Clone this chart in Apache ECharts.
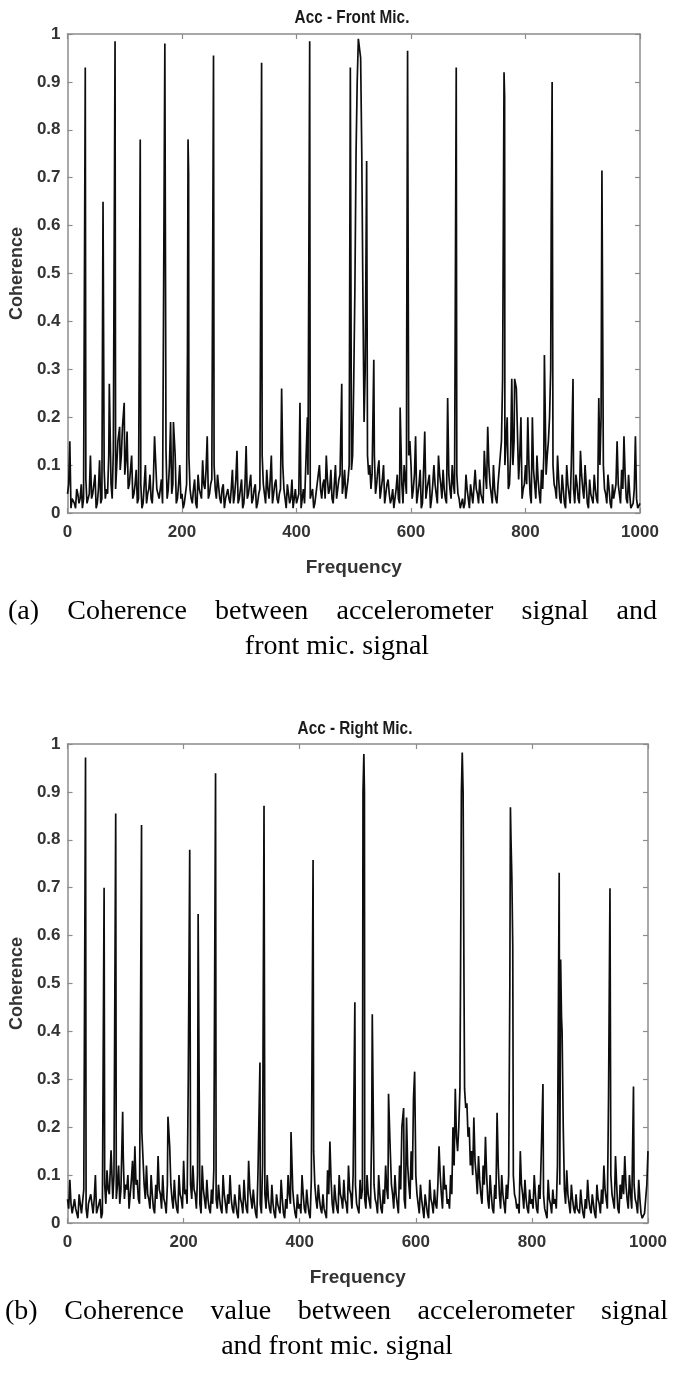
<!DOCTYPE html>
<html><head><meta charset="utf-8">
<script src="https://cdn.jsdelivr.net/npm/echarts@6/dist/echarts.min.js"></script>
<style>html,body{margin:0;padding:0;background:#fff}#c{width:675px;height:1379px}</style>
</head><body><div id="c"></div>
<script>
// ---------- DATA ----------
const FREQ_STEP = 4;           // spacing (Hz) of the background samples (base at 0,4,8.. ; fill at 2,6,10..)
const xTickStep = 200;          // frequency tick spacing
const yTickStep = 0.1;          // coherence tick spacing

// Acc - Front Mic. : background coherence at 0,4,...,1000 Hz
const noiseA = [
  0.04,0.15,0.03,0.02,0.05,0.02,0.06,0.03,0.07,0.02,
  0.12,0.04,0.08,0.02,0.11,0.03,0.09,0.05,0.12,0.06,
  0.13,0.05,0.15,0.09,0.18,0.08,0.17,0.06,0.12,0.04,
  0.09,0.03,0.06,0.02,0.10,0.04,0.08,0.02,0.16,0.05,
  0.03,0.07,0.02,0.13,0.05,0.19,0.06,0.12,0.03,0.10,
  0.04,0.02,0.06,0.12,0.03,0.05,0.02,0.08,0.04,0.11,
  0.05,0.16,0.04,0.07,0.10,0.03,0.08,0.02,0.06,0.03,
  0.05,0.02,0.09,0.04,0.13,0.03,0.07,0.02,0.14,0.04,
  0.08,0.03,0.06,0.02,0.05,0.12,0.04,0.09,0.03,0.12,
  0.04,0.07,0.02,0.05,0.10,0.03,0.06,0.02,0.07,0.03,
  0.02,0.04,0.01,0.05,0.02,0.08,0.03,0.05,0.02,0.06,
  0.10,0.03,0.07,0.12,0.04,0.09,0.02,0.10,0.05,0.08,
  0.04,0.09,0.05,0.10,0.09,0.28,0.75,0.99,0.95,0.45,
  0.30,0.12,0.10,0.08,0.12,0.06,0.11,0.05,0.10,0.04,
  0.07,0.02,0.05,0.03,0.08,0.02,0.06,0.10,0.04,0.12,
  0.10,0.05,0.16,0.04,0.09,0.02,0.17,0.05,0.08,0.03,
  0.10,0.04,0.12,0.06,0.09,0.03,0.24,0.05,0.10,0.04,
  0.08,0.03,0.02,0.01,0.08,0.03,0.06,0.02,0.09,0.04,
  0.07,0.03,0.13,0.05,0.10,0.04,0.10,0.03,0.06,0.12,
  0.28,0.10,0.20,0.06,0.28,0.15,0.26,0.07,0.20,0.05,
  0.10,0.20,0.04,0.20,0.06,0.12,0.04,0.09,0.12,0.08,
  0.15,0.30,0.10,0.05,0.12,0.03,0.08,0.02,0.10,0.04,
  0.10,0.05,0.08,0.03,0.13,0.05,0.10,0.02,0.07,0.04,
  0.08,0.03,0.24,0.20,0.10,0.04,0.08,0.02,0.06,0.03,
  0.15,0.04,0.09,0.16,0.03,0.08,0.01,0.02,0.16,0.01,
  0.02
];
// Acc - Front Mic. : background coherence at 2,6,...,998 Hz
const fillA = [
  0.06,0.01,0.03,0.01,0.04,0.03,0.01,0.05,0.02,0.04,
  0.03,0.06,0.01,0.05,0.02,0.07,0.03,0.04,0.09,0.03,
  0.06,0.10,0.04,0.12,0.06,0.11,0.05,0.09,0.03,0.06,
  0.02,0.05,0.01,0.06,0.02,0.05,0.03,0.07,0.02,0.04,
  0.05,0.02,0.08,0.03,0.10,0.04,0.08,0.02,0.06,0.03,
  0.01,0.04,0.03,0.05,0.02,0.07,0.01,0.05,0.03,0.06,
  0.09,0.03,0.06,0.02,0.05,0.08,0.03,0.05,0.01,0.04,
  0.03,0.05,0.02,0.07,0.02,0.05,0.01,0.06,0.03,0.06,
  0.02,0.05,0.01,0.04,0.03,0.06,0.02,0.05,0.07,0.02,
  0.06,0.03,0.04,0.02,0.05,0.01,0.04,0.03,0.01,0.05,
  0.03,0.01,0.03,0.02,0.04,0.02,0.03,0.01,0.04,0.08,
  0.05,0.06,0.03,0.07,0.05,0.03,0.06,0.03,0.07,0.04,
  0.06,0.03,0.07,0.04,0.12,0.55,0.90,0.99,0.75,0.20,
  0.50,0.08,0.05,0.13,0.04,0.09,0.03,0.07,0.02,0.06,
  0.04,0.03,0.01,0.05,0.03,0.04,0.02,0.07,0.20,0.15,
  0.03,0.08,0.02,0.06,0.01,0.09,0.03,0.05,0.01,0.06,
  0.06,0.02,0.08,0.03,0.05,0.02,0.08,0.03,0.06,0.50,
  0.04,0.01,0.03,0.02,0.05,0.01,0.04,0.02,0.05,0.02,
  0.04,0.02,0.08,0.03,0.06,0.02,0.05,0.02,0.09,0.15,
  0.50,0.15,0.05,0.12,0.10,0.18,0.04,0.12,0.03,0.06,
  0.06,0.10,0.02,0.09,0.03,0.07,0.02,0.05,0.04,0.12,
  0.20,0.50,0.06,0.03,0.07,0.02,0.05,0.01,0.06,0.02,
  0.05,0.02,0.06,0.02,0.08,0.03,0.06,0.01,0.04,0.02,
  0.05,0.02,0.10,0.40,0.05,0.02,0.05,0.01,0.03,0.06,
  0.06,0.02,0.05,0.08,0.02,0.04,0.01,0.05,0.03,0.01
];
// Acc - Front Mic. : narrow peaks [frequency, coherence]
const peaksA = [
  [31,0.93],[62,0.65],[73,0.27],[83,0.985],[91,0.18],[99,0.23],[127,0.78],[153,0.16],
  [170,0.98],[185,0.19],[209.5,0.34],[210.5,0.78],[211.5,0.71],[255,0.955],[339,0.94],
  [374,0.26],[406,0.23],[419,0.20],[423,0.985],[479,0.27],[494,0.93],[502,0.47],
  [510,0.994],[518,0.19],[522.5,0.735],[535,0.32],[581,0.22],[592.5,0.37],[594,0.965],
  [595.5,0.32],[679,0.93],[734,0.18],[762.5,0.92],[763.5,0.87],[781,0.28],[786,0.257],
  [833,0.33],[845,0.62],[846.5,0.90],[883,0.28],[933.5,0.715]
];

// Acc - Right Mic. : background coherence at 0,4,...,1000 Hz
const noiseB = [
  0.05,0.09,0.02,0.05,0.03,0.06,0.02,0.07,0.03,0.04,
  0.06,0.02,0.10,0.03,0.05,0.02,0.08,0.11,0.06,0.15,
  0.10,0.05,0.12,0.07,0.14,0.08,0.10,0.06,0.13,0.16,
  0.09,0.04,0.19,0.08,0.12,0.05,0.10,0.03,0.08,0.14,
  0.06,0.10,0.04,0.08,0.16,0.05,0.09,0.03,0.10,0.05,
  0.13,0.07,0.30,0.08,0.12,0.06,0.10,0.04,0.12,0.05,
  0.09,0.03,0.07,0.11,0.05,0.08,0.03,0.10,0.04,0.06,
  0.10,0.03,0.06,0.02,0.08,0.04,0.09,0.03,0.13,0.05,
  0.07,0.02,0.10,0.04,0.12,0.06,0.10,0.03,0.08,0.02,
  0.06,0.03,0.09,0.02,0.05,0.10,0.04,0.07,0.02,0.06,
  0.04,0.10,0.03,0.07,0.02,0.09,0.15,0.05,0.08,0.03,
  0.06,0.02,0.11,0.17,0.04,0.08,0.03,0.10,0.05,0.09,
  0.04,0.12,0.06,0.10,0.08,0.03,0.09,0.07,0.05,0.10,
  0.06,0.20,0.08,0.04,0.10,0.03,0.07,0.12,0.05,0.15,
  0.06,0.10,0.04,0.12,0.20,0.05,0.22,0.08,0.15,0.26,
  0.10,0.04,0.08,0.03,0.06,0.02,0.09,0.04,0.07,0.03,
  0.16,0.06,0.12,0.08,0.05,0.10,0.20,0.28,0.15,0.28,
  0.982,0.28,0.25,0.20,0.15,0.22,0.10,0.14,0.06,0.12,
  0.18,0.05,0.10,0.03,0.08,0.23,0.06,0.10,0.04,0.08,
  0.10,0.80,0.10,0.05,0.04,0.15,0.06,0.09,0.03,0.07,
  0.05,0.10,0.03,0.08,0.14,0.06,0.02,0.09,0.04,0.07,
  0.05,0.12,0.08,0.40,0.07,0.11,0.04,0.08,0.03,0.06,
  0.03,0.07,0.02,0.05,0.09,0.03,0.06,0.02,0.08,0.04,
  0.07,0.12,0.05,0.26,0.10,0.06,0.14,0.03,0.08,0.10,
  0.14,0.05,0.10,0.03,0.08,0.04,0.09,0.02,0.01,0.05,
  0.15
];
// Acc - Right Mic. : background coherence at 2,6,...,998 Hz
const fillB = [
  0.03,0.04,0.02,0.03,0.01,0.04,0.02,0.03,0.01,0.05,
  0.04,0.05,0.02,0.04,0.01,0.05,0.04,0.07,0.10,0.05,
  0.06,0.08,0.04,0.10,0.05,0.07,0.03,0.09,0.05,0.08,
  0.05,0.07,0.10,0.05,0.06,0.03,0.06,0.02,0.05,0.07,
  0.03,0.05,0.02,0.05,0.08,0.03,0.05,0.02,0.06,0.03,
  0.06,0.04,0.12,0.05,0.07,0.03,0.06,0.02,0.07,0.03,
  0.05,0.02,0.04,0.06,0.03,0.05,0.02,0.06,0.02,0.04,
  0.05,0.02,0.04,0.01,0.05,0.02,0.05,0.02,0.07,0.03,
  0.04,0.01,0.06,0.02,0.07,0.03,0.05,0.02,0.04,0.01,
  0.04,0.02,0.05,0.01,0.03,0.06,0.02,0.04,0.01,0.03,
  0.02,0.06,0.02,0.04,0.01,0.05,0.08,0.03,0.05,0.02,
  0.03,0.01,0.06,0.09,0.02,0.05,0.02,0.06,0.03,0.05,
  0.02,0.07,0.03,0.06,0.04,0.02,0.05,0.04,0.03,0.06,
  0.03,0.10,0.05,0.02,0.06,0.02,0.04,0.07,0.03,0.08,
  0.03,0.06,0.02,0.07,0.12,0.03,0.12,0.05,0.09,0.15,
  0.06,0.02,0.05,0.01,0.04,0.01,0.05,0.02,0.04,0.08,
  0.10,0.03,0.07,0.04,0.03,0.06,0.12,0.18,0.20,0.60,
  0.60,0.24,0.18,0.12,0.10,0.13,0.06,0.09,0.04,0.08,
  0.10,0.03,0.06,0.02,0.05,0.12,0.03,0.06,0.02,0.05,
  0.60,0.40,0.06,0.03,0.02,0.08,0.03,0.05,0.02,0.04,
  0.03,0.06,0.02,0.05,0.08,0.03,0.01,0.05,0.02,0.04,
  0.03,0.07,0.60,0.20,0.04,0.06,0.02,0.05,0.02,0.03,
  0.02,0.04,0.01,0.03,0.05,0.02,0.04,0.01,0.05,0.02,
  0.04,0.07,0.03,0.10,0.06,0.03,0.08,0.02,0.05,0.06,
  0.08,0.03,0.06,0.02,0.05,0.02,0.05,0.01,0.02,0.08
];
// Acc - Right Mic. : narrow peaks [frequency, coherence]
const peaksB = [
  [31,0.972],[63,0.70],[75,0.152],[83,0.855],[95,0.232],[127.5,0.831],[130,0.19],[173,0.222],
  [210.5,0.779],[225,0.645],[255,0.939],[331.5,0.335],[338.5,0.871],[385,0.19],[423,0.758],
  [495,0.461],[509,0.90],[510.5,0.979],[511.5,0.90],[525,0.436],[553,0.27],[579,0.24],
  [598,0.316],[677,0.50],[678.5,0.90],[681.5,0.90],[683,0.50],[762,0.50],[763,0.868],
  [765.5,0.72],[767,0.58],[819,0.29],[847,0.731],[849.5,0.55],[851,0.43],[934.5,0.699],[975,0.285]
];

const titles = ['Acc - Front Mic.', 'Acc - Right Mic.'];
const xName = 'Frequency';
const yName = 'Coherence';
const captionA = ['(a) Coherence between accelerometer signal and', 'front mic. signal'];
const captionB = ['(b) Coherence value between accelerometer signal', 'and front mic. signal'];

// ---------- BUILD ----------
function buildSeries(noise, fill, peaks) {
  const pts = noise.map((v, i) => [i * FREQ_STEP, v]);
  fill.forEach((v, i) => {
    const f = i * FREQ_STEP + FREQ_STEP / 2;
    // a fill sample is left out where a peak sample sits right next to it
    if (!peaks.some(p => Math.abs(p[0] - f) < 2)) pts.push([f, v]);
  });
  peaks.forEach(p => pts.push([p[0], p[1]]));
  pts.sort((a, b) => a[0] - b[0]);
  return pts;
}
const dataA = buildSeries(noiseA, fillA, peaksA);
const dataB = buildSeries(noiseB, fillB, peaksB);

const SANS = '"Liberation Sans", Arial, Helvetica, sans-serif';
const SERIF = '"Liberation Serif", "Times New Roman", Times, serif';
const AX = '#8c8c8c';
const LBL = '#333333';

function xAxes(gi) {
  const base = {
    gridIndex: gi, type: 'value', min: 0, max: 1000, interval: xTickStep,
    axisLine: { show: true, onZero: false, lineStyle: { color: AX, width: 1.5 } },
    axisTick: { show: true, inside: true, length: 5, lineStyle: { color: AX, width: 1.2 } },
    splitLine: { show: false }
  };
  return [
    Object.assign({}, base, {
      position: 'bottom',
      axisLabel: { show: true, margin: 11, color: LBL, fontSize: 17, fontWeight: 'bold', fontFamily: SANS,
                   formatter: v => String(v) },
      name: xName, nameLocation: 'middle', nameGap: 45,
      nameTextStyle: { fontSize: 19, fontWeight: 'bold', color: LBL, fontFamily: SANS }
    }),
    Object.assign({}, base, { position: 'top', axisLabel: { show: false } })
  ];
}
function yAxes(gi) {
  const base = {
    gridIndex: gi, type: 'value', min: 0, max: 1, interval: yTickStep,
    axisLine: { show: true, onZero: false, lineStyle: { color: AX, width: 1.5 } },
    axisTick: { show: true, inside: true, length: 5, lineStyle: { color: AX, width: 1.2 } },
    splitLine: { show: false }
  };
  return [
    Object.assign({}, base, {
      position: 'left',
      axisLabel: { show: true, margin: 7, color: LBL, fontSize: 17, fontWeight: 'bold', fontFamily: SANS,
                   formatter: v => String(Math.round(v * 10) / 10) },
      name: yName, nameLocation: 'middle', nameGap: 38, nameRotate: 90,
      nameTextStyle: { fontSize: 18, fontWeight: 'bold', color: LBL, fontFamily: SANS }
    }),
    Object.assign({}, base, { position: 'right', axisLabel: { show: false } })
  ];
}

// caption / title text elements
const measureCtx = document.createElement('canvas').getContext('2d');
function textEl(str, x, y, font, align, fill, scaleX) {
  return { type: 'text', x: x, y: y, scaleX: scaleX || 1, silent: true,
    style: { text: str, font: font, fill: fill || '#000', textAlign: align, align: align,
             textVerticalAlign: 'middle', verticalAlign: 'middle' } };
}
function justified(line, x0, x1, y, font) {
  measureCtx.font = font;
  const words = line.split(' ');
  const widths = words.map(w => measureCtx.measureText(w).width);
  const total = widths.reduce((a, b) => a + b, 0);
  const gap = (x1 - x0 - total) / (words.length - 1);
  const els = [];
  let x = x0;
  words.forEach((w, i) => { els.push(textEl(w, x, y, font, 'left')); x += widths[i] + gap; });
  return els;
}
const CAP_FONT = '28px ' + SERIF;
const TITLE_FONT = 'bold 18px ' + SANS;

const graphics = [
  textEl(titles[0], 352, 18, TITLE_FONT, 'center', '#1a1a1a', 0.85),
  textEl(titles[1], 355, 729, TITLE_FONT, 'center', '#1a1a1a', 0.85),
  ...justified(captionA[0], 8, 657, 612, CAP_FONT),
  textEl(captionA[1], 337, 647, CAP_FONT, 'center'),
  ...justified(captionB[0], 5, 668, 1312, CAP_FONT),
  textEl(captionB[1], 337, 1347, CAP_FONT, 'center')
];

const lineStyle = { color: '#0d0d0d', width: 1.7 };
const chart = echarts.init(document.getElementById('c'), null, { renderer: 'canvas' });
chart.setOption({
  animation: false,
  backgroundColor: '#fff',
  grid: [
    { left: 64, top: 34, width: 576, height: 479 },
    { left: 63, top: 744, width: 585, height: 479 }
  ],
  xAxis: [...xAxes(0), ...xAxes(1)],
  yAxis: [...yAxes(0), ...yAxes(1)],
  graphic: graphics,
  series: [
    { type: 'line', xAxisIndex: 0, yAxisIndex: 0, data: dataA, showSymbol: false, symbol: 'none', lineStyle: lineStyle, clip: true },
    { type: 'line', xAxisIndex: 2, yAxisIndex: 2, data: dataB, showSymbol: false, symbol: 'none', lineStyle: lineStyle, clip: true }
  ]
});
</script></body></html>
